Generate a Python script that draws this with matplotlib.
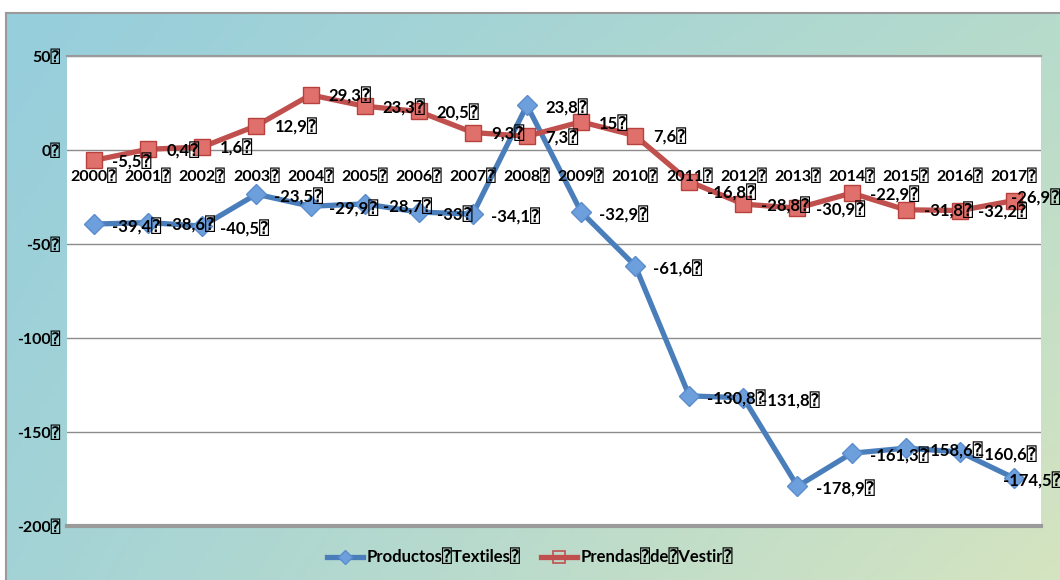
import numpy as np
import matplotlib
matplotlib.use("Agg")
import matplotlib.pyplot as plt
from matplotlib.lines import Line2D

FAMILIES = ['Lato', 'DejaVu Sans', 'DejaVu Sans Mono']
plt.rcParams['font.family'] = FAMILIES

BOX = "\u2370"

years = [str(y) for y in range(2000, 2018)]
textiles = [-39.4, -38.6, -40.5, -23.5, -29.9, -28.7, -33, -34.1, 23.8, -32.9,
            -61.6, -130.8, -131.8, -178.9, -161.3, -158.6, -160.6, -174.5]
prendas = [-5.5, 0.4, 1.6, 12.9, 29.3, 23.3, 20.5, 9.3, 7.3, 15,
           7.6, -16.8, -28.8, -30.9, -22.9, -31.8, -32.2, -26.9]
y_ticks = [50, 0, -50, -100, -150, -200]
series_names = ["Productos" + BOX + "Textiles" + BOX,
                "Prendas" + BOX + "de" + BOX + "Vestir" + BOX]

W, H = 1060, 580
fig = plt.figure(figsize=(W / 100, H / 100), dpi=100)

# gradient chart background with a thin grey frame
bg = fig.add_axes([6 / W, 0, 1 - 6 / W, (H - 13) / H])
c_tl = np.array([150, 206, 221]) / 255
c_tr = np.array([182, 219, 204]) / 255
c_bl = np.array([163, 211, 214]) / 255
c_br = np.array([213, 228, 192]) / 255
u = np.linspace(0, 1, 200)[None, :, None]
v = np.linspace(0, 1, 120)[:, None, None]
img = (1 - v) * ((1 - u) * c_tl + u * c_tr) + v * ((1 - u) * c_bl + u * c_br)
bg.imshow(img, aspect='auto', extent=[0, 1, 0, 1], origin='upper')
bg.set_xlim(0, 1)
bg.set_ylim(0, 1)
bg.set_xticks([])
bg.set_yticks([])
for s in ['right', 'bottom']:
    bg.spines[s].set_visible(False)
for s in ['top', 'left']:
    bg.spines[s].set_color('#9a9a9a')
    bg.spines[s].set_linewidth(1.5)

ax = fig.add_axes([67 / W, (H - 526) / H, (1041 - 67) / W, (526 - 56) / H])
ax.set_facecolor('white')
x = np.arange(len(years))

blue = '#4A7EBB'
red = '#C0504D'
ax.plot(x, textiles, color=blue, lw=3.8, marker='D', ms=10,
        mfc='#6E9FDD', mec='#5B8CCB', mew=1.0, zorder=4, solid_joinstyle='round')
ax.plot(x, prendas, color=red, lw=3.8, marker='s', ms=11.5,
        mfc='#E0706C', mec='#B8403D', mew=1.0, zorder=5, solid_joinstyle='round')

def fmt(v):
    s = ('%g' % v).replace('.', ',')
    return s + BOX

last = len(years) - 1
for xi, v in zip(x, textiles):
    dx = -8 if xi == last else 13
    ax.annotate(fmt(v), (xi, v), xytext=(dx, -2), textcoords='offset points',
                ha='left', va='center', fontsize=12, fontweight='bold', zorder=6,
                annotation_clip=False)
for xi, v in zip(x, prendas):
    if xi == last:
        dx, dy = -2, 2
    elif xi == 11:
        dx, dy = 13, -8
    else:
        dx, dy = 13, -1
    ax.annotate(fmt(v), (xi, v), xytext=(dx, dy), textcoords='offset points',
                ha='left', va='center', fontsize=12, fontweight='bold', zorder=6,
                annotation_clip=False)

ax.set_xlim(-0.5, len(years) - 0.5)
ax.set_ylim(-200, 50)
ax.set_yticks(y_ticks)
ax.set_yticklabels([str(t) + BOX for t in y_ticks], fontsize=11.5, fontweight='bold')
ax.tick_params(axis='y', length=0, pad=5)
ax.yaxis.grid(True, color='#8c8c8c', lw=1.0)
ax.set_axisbelow(True)

# category labels sit just under the zero line, above the markers
ax.set_xticks([])
for xi, yr in zip(x, years):
    ax.annotate(yr + BOX, (xi, 0), xytext=(0, -13), textcoords='offset points',
                ha='center', va='top', fontsize=11.5, fontweight='bold', zorder=7)

for s in ['left', 'right', 'bottom']:
    ax.spines[s].set_visible(False)
ax.spines['top'].set_color('#9a9a9a')
ax.spines['top'].set_linewidth(1.5)
ax.axhline(-200, color='#9a9a9a', lw=3, zorder=1, clip_on=False)

handles = [
    Line2D([], [], color=blue, lw=3.8, marker='D', ms=7, mfc='#6E9FDD', mec='#5B8CCB'),
    Line2D([], [], color=red, lw=3.8, marker='s', ms=8, mfc='none', mec=red, mew=1.2),
]
fig.legend(handles, series_names, loc='center', bbox_to_anchor=(0.5, (H - 557) / H),
           ncol=2, frameon=False, prop={'weight': 'bold', 'size': 12},
           handlelength=2.2, columnspacing=1.2, handletextpad=0.2)

fig.savefig('out.png', dpi=100)
